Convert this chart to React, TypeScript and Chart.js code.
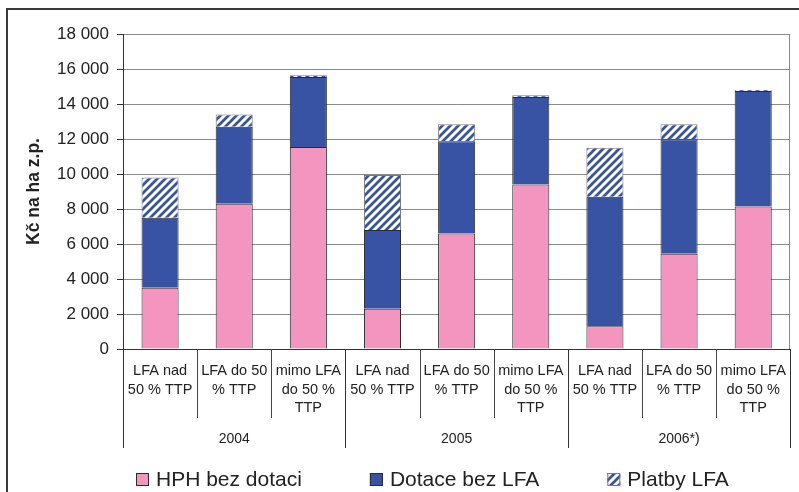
import React, { useEffect, useRef } from "react";
import { Chart, registerables } from "chart.js";

Chart.register(...registerables);

// ---- data ----
const years = ["2004", "2005", "2006*)"];
const subCategories = [
  ["LFA nad", "50 % TTP"],
  ["LFA do 50", "% TTP"],
  ["mimo LFA", "do 50 %", "TTP"],
];
const categoryLabels = years.flatMap(() => subCategories);
const seriesNames = ["HPH bez dotaci", "Dotace bez LFA", "Platby LFA"];
const hphBezDotaci = [3500, 8300, 11550, 2300, 6600, 9400, 1300, 5450, 8150];
const dotaceBezLfa = [4000, 4400, 4000, 4500, 5270, 5000, 7400, 6530, 6600];
const platbyLfa = [2300, 700, 100, 3150, 970, 100, 2800, 860, 60];
const yMax = 18000;
const yStep = 2000;
const yTitle = "Kč na ha z.p.";

const PINK = "#F495C0";
const BLUE = "#3853A4";
const FONT = "'Liberation Sans', Arial, sans-serif";

function makeHatch(): CanvasPattern | string {
  const s = 8;
  const c = document.createElement("canvas");
  c.width = s;
  c.height = s;
  const g = c.getContext("2d");
  if (!g) return BLUE;
  g.fillStyle = "#ffffff";
  g.fillRect(0, 0, s, s);
  g.strokeStyle = BLUE;
  g.lineWidth = 2.7;
  g.beginPath();
  g.moveTo(-1, s + 1);
  g.lineTo(s + 1, -1);
  g.moveTo(-s / 2 - 1, s / 2 + 1);
  g.lineTo(s / 2 + 1, -s / 2 - 1);
  g.moveTo(s / 2 - 1, s * 1.5 + 1);
  g.lineTo(s * 1.5 + 1, s / 2 - 1);
  g.stroke();
  const p = g.createPattern(c, "repeat");
  return p || BLUE;
}

const fmt = (v: number) => {
  const s = Math.round(v).toString();
  return s.replace(/\B(?=(\d{3})+(?!\d))/g, " ");
};

export default function App() {
  const ref = useRef<HTMLCanvasElement | null>(null);

  useEffect(() => {
    const canvas = ref.current;
    if (!canvas) return;
    const hatch = makeHatch();

    const framePlugin = {
      id: "framePlugin",
      beforeDraw(chart: any) {
        const ctx = chart.ctx;
        ctx.save();
        ctx.fillStyle = "#ffffff";
        ctx.fillRect(0, 0, chart.width, chart.height);
        ctx.strokeStyle = "#3a3a3a";
        ctx.lineWidth = 2;
        ctx.beginPath();
        ctx.moveTo(7, chart.height + 5);
        ctx.lineTo(7, 9);
        ctx.lineTo(chart.width + 5, 9);
        ctx.stroke();
        ctx.restore();
      },
      afterDraw(chart: any) {
        const ctx = chart.ctx;
        const xs = chart.scales.x;
        const area = chart.chartArea;
        ctx.save();
        // plot right border
        ctx.strokeStyle = "#8a8a8a";
        ctx.lineWidth = 1;
        ctx.beginPath();
        const rx = Math.round(area.right) - 0.5;
        ctx.moveTo(rx, area.top);
        ctx.lineTo(rx, area.bottom);
        ctx.stroke();
        // separators
        const n = categoryLabels.length;
        for (let i = 0; i <= n; i++) {
          const px = Math.round(xs.getPixelForValue(i - 0.5)) + 0.5;
          const isGroup = i % subCategories.length === 0;
          ctx.strokeStyle = isGroup ? "#333333" : "#444444";
          ctx.beginPath();
          ctx.moveTo(px, area.bottom);
          ctx.lineTo(px, isGroup ? 448 : 418);
          ctx.stroke();
        }
        // group labels
        ctx.fillStyle = "#222222";
        ctx.font = `14px ${FONT}`;
        ctx.textAlign = "center";
        ctx.textBaseline = "middle";
        years.forEach((y, g) => {
          const cx = xs.getPixelForValue(g * subCategories.length + (subCategories.length - 1) / 2);
          ctx.fillText(y, cx, 439);
        });
        // legend
        ctx.font = `21px ${FONT}`;
        ctx.textAlign = "left";
        ctx.textBaseline = "alphabetic";
        let x = 136;
        const boxTop = 473;
        const box = 13;
        chart.data.datasets.forEach((ds: any) => {
          ctx.fillStyle = ds.backgroundColor;
          ctx.fillRect(x, boxTop, box, box);
          ctx.strokeStyle = ds.borderColor;
          ctx.lineWidth = 1;
          ctx.strokeRect(x + 0.5, boxTop + 0.5, box - 1, box - 1);
          ctx.fillStyle = "#222222";
          ctx.fillText(ds.label, x + 20, 486);
          x += 20 + ctx.measureText(ds.label).width + 68;
        });
        ctx.restore();
      },
    };

    const chart = new Chart(canvas, {
      type: "bar",
      data: {
        labels: categoryLabels,
        datasets: [
          {
            label: seriesNames[0],
            data: hphBezDotaci,
            backgroundColor: PINK,
            borderColor: "#2b2b2b",
            borderWidth: 1,
          },
          {
            label: seriesNames[1],
            data: dotaceBezLfa,
            backgroundColor: BLUE,
            borderColor: "#2b2b2b",
            borderWidth: 1,
          },
          {
            label: seriesNames[2],
            data: platbyLfa,
            backgroundColor: hatch as any,
            borderColor: "#7a7a7a",
            borderWidth: 1,
          },
        ],
      },
      options: {
        responsive: false,
        animation: false,
        devicePixelRatio: 1,
        layout: { padding: { left: 0, top: 34, right: 3, bottom: 0 } },
        datasets: {
          bar: { barPercentage: 0.5, categoryPercentage: 1 },
        },
        plugins: {
          legend: { display: false },
          tooltip: { enabled: false },
        },
        scales: {
          x: {
            stacked: true,
            offset: true,
            grid: { display: false, drawTicks: false },
            border: { display: true, color: "#333333", width: 1 },
            ticks: {
              autoSkip: false,
              maxRotation: 0,
              minRotation: 0,
              padding: 13,
              color: "#222222",
              font: { family: FONT, size: 14.5, lineHeight: 1.28 },
            },
            afterFit(scale: any) {
              scale.height = 143;
            },
          },
          y: {
            stacked: true,
            min: 0,
            max: yMax,
            ticks: {
              stepSize: yStep,
              padding: 8,
              color: "#222222",
              font: { family: FONT, size: 17 },
              callback: (v: any) => fmt(Number(v)),
            },
            grid: {
              color: "#8a8a8a",
              tickColor: "#333333",
              tickLength: 6,
              lineWidth: 1,
            },
            border: { display: true, color: "#333333", width: 1 },
            title: {
              display: true,
              text: yTitle,
              color: "#222222",
              font: { family: FONT, size: 17.5, weight: "bold" },
              padding: { top: 24, bottom: 0 },
            },
            afterFit(scale: any) {
              scale.width = 123;
            },
          },
        },
      },
      plugins: [framePlugin],
    });

    return () => chart.destroy();
  }, []);

  return (
    <div style={{ position: "fixed", left: 0, top: 0, width: 799, height: 492, background: "#fff" }}>
      <canvas ref={ref} width={799} height={492} style={{ display: "block", width: 799, height: 492 }} />
    </div>
  );
}
